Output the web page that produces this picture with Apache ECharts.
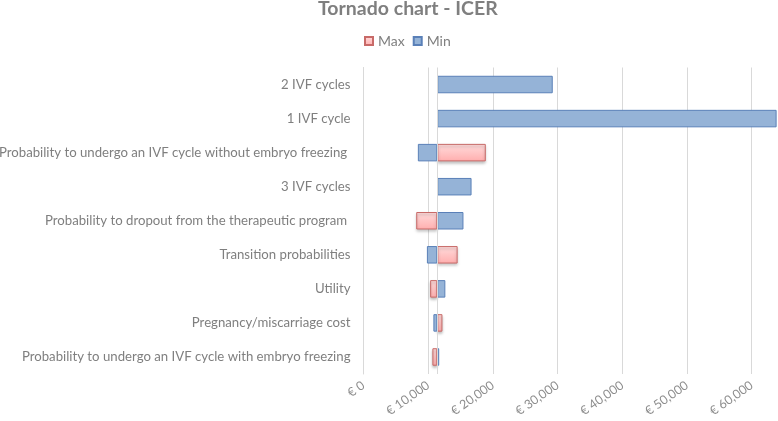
<!DOCTYPE html>
<html>
<head>
<meta charset="utf-8">
<script src="https://cdn.jsdelivr.net/npm/echarts@6/dist/echarts.min.js"></script>
<style>html,body{margin:0;padding:0;background:#fff;overflow:hidden}#c{width:778px;height:421px}</style>
</head>
<body>
<div id="c"></div>
<script>
var categories = [
  "2 IVF cycles",
  "1 IVF cycle",
  "Probability to undergo an IVF cycle without embryo freezing ",
  "3 IVF cycles",
  "Probability to dropout from the therapeutic program ",
  "Transition probabilities",
  "Utility",
  "Pregnancy/miscarriage cost",
  "Probability to undergo an IVF cycle with embryo freezing"
];
var baseICER = 11400;
var maxValues = [null, null, 18900, null, 8150, 14550, 10300, 12200, 10650];
var minValues = [29250, 63850, 8400, 16700, 15450, 9800, 12650, 10800, 11700];
var xTicks = [0, 10000, 20000, 30000, 40000, 50000, 60000];

function offsets(vals) {
  return vals.map(function (v) { return v == null ? '-' : Math.min(v, baseICER); });
}
function lengths(vals) {
  return vals.map(function (v) { return v == null ? '-' : Math.abs(v - baseICER); });
}

var FONT = 'Lato';
var chart = echarts.init(document.getElementById('c'));
var redStyle = {
  color: new echarts.graphic.LinearGradient(0, 0, 0, 1, [
    { offset: 0, color: '#ffdcdc' },
    { offset: 1, color: '#ffaeae' }
  ]),
  borderColor: '#c86a68',
  borderWidth: 1,
  shadowBlur: 3,
  shadowOffsetY: 2,
  shadowColor: 'rgba(0,0,0,0.25)'
};
var blueStyle = { color: '#95b3d7', borderColor: '#5a80b8', borderWidth: 1 };
var BW = 17.5;

chart.setOption({
  animation: false,
  textStyle: { fontFamily: FONT },
  title: {
    text: 'Tornado chart - ICER',
    left: 313, top: -6,
    textStyle: { fontFamily: FONT, fontSize: 19.5, fontWeight: 'bold', color: '#7f7f7f' }
  },
  legend: {
    data: ['Max', 'Min'],
    left: 359, top: 29,
    icon: 'rect',
    itemWidth: 8, itemHeight: 8, itemGap: 8,
    textStyle: { fontFamily: FONT, fontSize: 14, color: '#7f7f7f' }
  },
  grid: { left: 363.5, width: 452.9, top: 67.5, height: 306.5, containLabel: false, outerBoundsMode: 'none' },
  xAxis: {
    type: 'value', min: 0, max: 70000, interval: 10000,
    axisLine: { show: false }, axisTick: { show: false },
    splitLine: { lineStyle: { color: '#d9d9d9' } },
    axisLabel: {
      rotate: 35, color: '#8c8c8c', fontFamily: FONT, fontSize: 12.5, margin: 10,
      formatter: function (v) { return xTicks.indexOf(v) >= 0 ? '€ ' + v.toLocaleString('en-US') : ''; }
    }
  },
  yAxis: {
    type: 'category', data: categories, inverse: true,
    axisLine: { show: true, lineStyle: { color: '#d9d9d9' } },
    axisTick: { show: false },
    axisLabel: { color: '#7f7f7f', fontFamily: FONT, fontSize: 13.2, margin: 13 }
  },
  series: [
    { name: 'maxOffset', type: 'bar', stack: 'max', barWidth: BW, silent: true,
      itemStyle: { color: 'transparent' }, data: offsets(maxValues) },
    { name: 'Max', type: 'bar', stack: 'max', barWidth: BW, itemStyle: redStyle,
      data: lengths(maxValues) },
    { name: 'minOffset', type: 'bar', stack: 'min', barWidth: BW, barGap: '-100%', silent: true,
      itemStyle: { color: 'transparent' }, data: offsets(minValues) },
    { name: 'Min', type: 'bar', stack: 'min', barWidth: BW, barGap: '-100%', itemStyle: blueStyle,
      data: lengths(minValues),
      markLine: {
        silent: true, symbol: 'none', label: { show: false },
        lineStyle: { color: '#d9d9d9', type: 'solid', width: 1 },
        data: [{ xAxis: baseICER }]
      } }
  ]
});
</script>
</body>
</html>
